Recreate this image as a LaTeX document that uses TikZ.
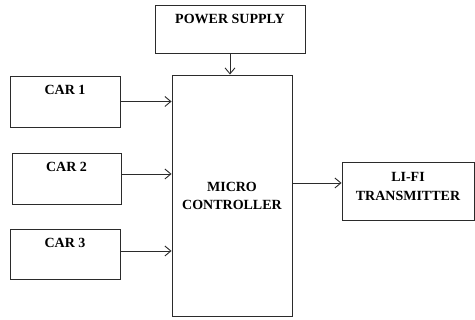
\documentclass[tikz,border=0pt]{standalone}
\usepackage{fontspec}
\setmainfont{Liberation Serif}
\usetikzlibrary{arrows.meta}
\definecolor{Edge}{HTML}{2B2B2B}

\begin{document}
\begin{tikzpicture}[x=1pt, y=-1pt,
  blk/.style={draw=Edge, line width=0.9pt, minimum width=#1, inner sep=0pt},
  hdr/.style={anchor=north, yshift=-6.5pt, align=center, font=\fontsize{14}{19}\selectfont\bfseries},
  feed/.style={draw=Edge, line width=0.9pt, -{Straight Barb[length=6pt,width=10pt]}},
  every node/.style={font=\fontsize{14}{19}\selectfont\bfseries}]
\useasboundingbox (0,0) rectangle (475,320);
\node[blk=150pt, minimum height=48pt, label={[hdr]north:POWER SUPPLY}] (power) at (230,29) {};
\node[blk=120pt, minimum height=241pt, align=center] (micro) at (232,195.5) {MICRO\\[-1pt]CONTROLLER};
\node[blk=110pt, minimum height=51pt, label={[hdr]north:CAR 1}] (car1) at (65,101.5) {};
\node[blk=109pt, minimum height=51pt, label={[hdr]north:CAR 2}] (car2) at (66.5,178.5) {};
\node[blk=110pt, minimum height=50pt, label={[hdr]north:CAR 3}] (car3) at (65,254) {};
\node[blk=132pt, minimum height=58pt, label={[hdr, yshift=-0.5pt]north:LI-FI\\TRANSMITTER}] (lifi) at (408,191) {};
\draw[feed] (power.south) -- (power.south |- micro.north);
\draw[feed] (car1.east) -- (car1.east -| micro.west);
\draw[feed] ([yshift=4.5pt]car2.east) -- ([yshift=4.5pt]car2.east -| micro.west);
\draw[feed] ([yshift=3pt]car3.east) -- ([yshift=3pt]car3.east -| micro.west);
\draw[feed] ([yshift=8pt]lifi.west -| micro.east) -- ([yshift=8pt]lifi.west);
\end{tikzpicture}
\end{document}
